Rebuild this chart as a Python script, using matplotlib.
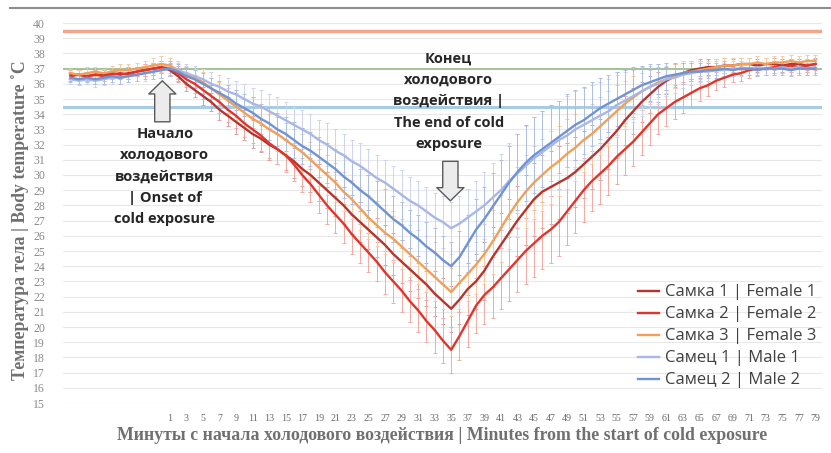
import matplotlib
matplotlib.use("Agg")
import matplotlib.pyplot as plt
from matplotlib.lines import Line2D

# ---------------- data ----------------
minutes = list(range(-11, 80))          # 91 time points (baseline before minute 1)
tick_minutes = list(range(1, 80, 2))
tick_labels = [str(m) for m in tick_minutes]
y_ticks = list(range(15, 41))

series_names = ["Самка 1 | Female 1", "Самка 2 | Female 2", "Самка 3 | Female 3",
                "Самец 1 | Male 1", "Самец 2 | Male 2"]

female1_temp = [36.6, 36.6, 36.5, 36.6, 36.6, 36.7, 36.6, 36.7, 36.8, 36.9, 37.0, 37.1,
                36.9, 36.5, 36.0, 35.6, 35.2, 34.8, 34.3, 33.9, 33.5, 33.1, 32.7, 32.4, 32.0, 31.7, 31.3,
                30.9, 30.4, 30.0, 29.5, 29.0, 28.5, 28.0, 27.4, 26.9, 26.4, 25.9, 25.4, 24.8, 24.3, 23.8,
                23.3, 22.8, 22.2, 21.7, 21.2,
                21.8, 22.5, 23.0, 23.7, 24.6, 25.4, 26.2, 27.0, 27.7, 28.4, 28.9, 29.2, 29.5, 29.8, 30.2,
                30.7, 31.2, 31.7, 32.3, 32.9, 33.6, 34.2, 34.8, 35.3, 35.8, 36.2, 36.5, 36.7, 36.9, 37.0,
                37.1, 37.1, 37.2, 37.2, 37.3, 37.3, 37.2, 37.3, 37.3, 37.2, 37.3, 37.3, 37.2, 37.3]
female2_temp = [36.5, 36.6, 36.5, 36.6, 36.5, 36.6, 36.7, 36.6, 36.8, 36.9, 37.0, 37.1,
                37.0, 36.7, 36.3, 36.0, 35.6, 35.2, 34.8, 34.3, 33.9, 33.4, 33.0, 32.6, 32.1, 31.7, 31.3,
                30.7, 30.0, 29.4, 28.7, 28.0, 27.4, 26.8, 26.1, 25.5, 24.9, 24.3, 23.6, 23.0, 22.4, 21.7,
                21.1, 20.4, 19.8, 19.1, 18.5,
                19.4, 20.4, 21.4, 22.1, 22.6, 23.2, 23.8, 24.4, 25.0, 25.5, 26.0, 26.4, 26.9, 27.6, 28.3,
                29.0, 29.6, 30.1, 30.6, 31.2, 31.7, 32.2, 32.8, 33.4, 34.0, 34.4, 34.8, 35.1, 35.4, 35.7,
                35.9, 36.2, 36.4, 36.6, 36.7, 36.9, 37.0, 37.0, 37.1, 37.1, 37.2, 37.1, 37.2, 37.3]
female3_temp = [36.7, 36.6, 36.7, 36.8, 36.7, 36.8, 36.9, 36.9, 37.0, 37.1, 37.2, 37.3,
                37.2, 36.9, 36.6, 36.4, 36.1, 35.7, 35.3, 34.9, 34.5, 34.1, 33.7, 33.4, 33.0, 32.7, 32.3,
                31.9, 31.5, 31.0, 30.5, 30.0, 29.5, 28.9, 28.4, 27.8, 27.2, 26.7, 26.2, 25.8, 25.3, 24.8,
                24.3, 23.8, 23.3, 22.8, 22.3,
                22.9, 23.5, 24.1, 24.8, 25.6, 26.5, 27.4, 28.2, 28.9, 29.5, 30.0, 30.5, 30.9, 31.4, 31.8,
                32.3, 32.7, 33.2, 33.7, 34.2, 34.7, 35.1, 35.5, 35.8, 36.1, 36.3, 36.5, 36.7, 36.8, 36.9,
                37.0, 37.1, 37.2, 37.2, 37.3, 37.3, 37.4, 37.3, 37.4, 37.4, 37.5, 37.4, 37.5, 37.5]
male1_temp = [36.3, 36.2, 36.3, 36.2, 36.3, 36.4, 36.4, 36.5, 36.6, 36.7, 36.8, 36.9,
              37.0, 36.9, 36.7, 36.5, 36.3, 36.0, 35.8, 35.5, 35.3, 35.0, 34.7, 34.5, 34.2, 33.9, 33.6,
              33.3, 33.0, 32.7, 32.3, 32.0, 31.6, 31.3, 30.9, 30.6, 30.2, 29.8, 29.5, 29.1, 28.7, 28.3,
              28.0, 27.6, 27.2, 26.9, 26.5,
              26.8, 27.2, 27.6, 28.0, 28.5, 29.0, 29.6, 30.1, 30.6, 31.1, 31.5, 31.9, 32.3, 32.6, 33.0,
              33.3, 33.6, 33.9, 34.2, 34.6, 34.9, 35.2, 35.5, 35.8, 36.0, 36.3, 36.4, 36.6, 36.7, 36.8,
              36.8, 36.9, 36.9, 37.0, 37.0, 37.0, 37.1, 37.0, 37.0, 37.1, 37.0, 37.1, 37.0, 37.1]
male2_temp = [36.4, 36.3, 36.4, 36.3, 36.4, 36.5, 36.4, 36.5, 36.6, 36.7, 36.8, 36.9,
              37.0, 36.8, 36.5, 36.3, 36.0, 35.7, 35.4, 35.1, 34.7, 34.4, 34.1, 33.7, 33.4, 33.0, 32.7,
              32.3, 31.9, 31.6, 31.2, 30.8, 30.4, 29.9, 29.5, 29.0, 28.6, 28.1, 27.6, 27.1, 26.7, 26.2,
              25.8, 25.3, 24.9, 24.4, 24.0,
              24.6, 25.5, 26.4, 27.1, 27.9, 28.7, 29.5, 30.2, 30.8, 31.3, 31.7, 32.1, 32.5, 32.9, 33.3,
              33.6, 34.0, 34.4, 34.7, 35.0, 35.3, 35.6, 35.9, 36.1, 36.3, 36.5, 36.6, 36.7, 36.8, 36.8,
              36.9, 36.9, 37.0, 36.9, 37.0, 37.0, 36.9, 37.0, 37.0, 37.0, 36.9, 37.0, 37.0, 37.0]

female1_err = [0.3, 0.3, 0.3, 0.3, 0.3, 0.3, 0.3, 0.4, 0.3, 0.4, 0.4, 0.4,
               0.4, 0.4, 0.5, 0.5, 0.6, 0.6, 0.7, 0.7, 0.8, 0.8, 0.9, 0.9, 1.0, 1.0, 1.0, 1.1, 1.1, 1.1,
               1.2, 1.2, 1.2, 1.2, 1.3, 1.3, 1.3, 1.3, 1.3, 1.4, 1.4, 1.4, 1.4, 1.4, 1.5, 1.5, 1.5,
               1.6, 1.7, 1.8, 1.9, 2.0, 2.1, 2.2, 2.3, 2.3, 2.4, 2.4, 2.4, 2.4, 2.3, 2.3, 2.2, 2.1, 2.0,
               1.9, 1.8, 1.6, 1.5, 1.3, 1.2, 1.0, 0.9, 0.8, 0.7, 0.6, 0.6, 0.5, 0.5, 0.5, 0.4, 0.4, 0.4,
               0.4, 0.4, 0.4, 0.4, 0.3, 0.3, 0.3, 0.3]
female2_err = [0.3, 0.3, 0.3, 0.3, 0.3, 0.3, 0.3, 0.3, 0.3, 0.4, 0.4, 0.4,
               0.4, 0.5, 0.5, 0.6, 0.6, 0.7, 0.7, 0.8, 0.8, 0.9, 0.9, 1.0, 1.0, 1.0, 1.1, 1.1, 1.1, 1.2,
               1.2, 1.2, 1.2, 1.3, 1.3, 1.3, 1.3, 1.3, 1.4, 1.4, 1.4, 1.4, 1.4, 1.4, 1.5, 1.5, 1.5,
               1.6, 1.7, 1.8, 1.9, 2.0, 2.0, 2.1, 2.1, 2.2, 2.2, 2.2, 2.2, 2.2, 2.2, 2.1, 2.1, 2.0, 2.0,
               1.9, 1.8, 1.7, 1.6, 1.5, 1.4, 1.3, 1.2, 1.1, 1.0, 0.9, 0.8, 0.7, 0.6, 0.6, 0.5, 0.5, 0.5,
               0.4, 0.4, 0.4, 0.4, 0.4, 0.4, 0.4, 0.4]
female3_err = [0.3, 0.3, 0.4, 0.3, 0.3, 0.4, 0.4, 0.4, 0.4, 0.4, 0.5, 0.5,
               0.5, 0.5, 0.6, 0.6, 0.7, 0.7, 0.8, 0.8, 0.9, 0.9, 1.0, 1.0, 1.0, 1.1, 1.1, 1.1, 1.2, 1.2,
               1.2, 1.3, 1.3, 1.3, 1.3, 1.4, 1.4, 1.4, 1.4, 1.5, 1.5, 1.5, 1.5, 1.5, 1.6, 1.6, 1.6,
               1.7, 1.8, 1.9, 2.0, 2.1, 2.2, 2.3, 2.3, 2.4, 2.4, 2.4, 2.4, 2.3, 2.3, 2.2, 2.1, 2.0, 1.9,
               1.8, 1.7, 1.5, 1.4, 1.2, 1.1, 1.0, 0.9, 0.8, 0.7, 0.6, 0.6, 0.5, 0.5, 0.5, 0.5, 0.4, 0.4,
               0.4, 0.4, 0.4, 0.4, 0.4, 0.4, 0.4, 0.4]
male1_err = [0.3, 0.3, 0.3, 0.4, 0.4, 0.4, 0.4, 0.4, 0.4, 0.5, 0.5, 0.5,
             0.5, 0.6, 0.6, 0.7, 0.7, 0.8, 0.8, 0.9, 0.9, 1.0, 1.0, 1.1, 1.1, 1.2, 1.2, 1.2, 1.3, 1.3,
             1.3, 1.4, 1.4, 1.4, 1.4, 1.5, 1.5, 1.5, 1.5, 1.5, 1.6, 1.6, 1.6, 1.6, 1.6, 1.7, 1.7,
             1.8, 1.9, 2.0, 2.2, 2.3, 2.4, 2.5, 2.6, 2.6, 2.7, 2.7, 2.7, 2.6, 2.6, 2.5, 2.4, 2.3, 2.2,
             2.1, 2.0, 1.9, 1.7, 1.6, 1.4, 1.3, 1.1, 1.0, 0.9, 0.8, 0.7, 0.6, 0.6, 0.5, 0.5, 0.5, 0.4,
             0.4, 0.4, 0.4, 0.4, 0.4, 0.4, 0.4, 0.4]
male2_err = [0.3, 0.3, 0.3, 0.3, 0.4, 0.4, 0.4, 0.4, 0.4, 0.4, 0.5, 0.5,
             0.5, 0.5, 0.6, 0.6, 0.7, 0.7, 0.8, 0.8, 0.9, 0.9, 1.0, 1.0, 1.1, 1.1, 1.1, 1.2, 1.2, 1.2,
             1.3, 1.3, 1.3, 1.4, 1.4, 1.4, 1.4, 1.5, 1.5, 1.5, 1.5, 1.5, 1.6, 1.6, 1.6, 1.6, 1.6,
             1.7, 1.9, 2.0, 2.1, 2.2, 2.3, 2.4, 2.5, 2.5, 2.5, 2.5, 2.5, 2.4, 2.4, 2.3, 2.2, 2.1, 2.0,
             1.9, 1.8, 1.6, 1.5, 1.3, 1.2, 1.0, 0.9, 0.8, 0.7, 0.6, 0.6, 0.5, 0.5, 0.5, 0.4, 0.4, 0.4,
             0.4, 0.4, 0.4, 0.4, 0.4, 0.4, 0.4, 0.4]

ref_levels = [39.5, 37.0, 34.5]

# ---------------- style ----------------
line_colors = ["#b8332e", "#e2352a", "#f2a057", "#a9b7e6", "#6f93d3"]
err_colors = ["#dca0a0", "#f2a9a3", "#f6cba5", "#ccd4f0", "#aebfe6"]
ref_colors = ["#f4a58e", "#9dbd92", "#a8cce6"]
ref_widths = [2.5, 1.3, 2.2]

temps = [female1_temp, female2_temp, female3_temp, male1_temp, male2_temp]
errs = [female1_err, female2_err, female3_err, male1_err, male2_err]

W, H = 831, 453
fig = plt.figure(figsize=(W / 100, H / 100), dpi=100)
ax = fig.add_axes([63 / W, 1 - 403 / H, (822 - 63) / W, (403 - 23) / H])

ax.set_xlim(-11.9, 79.8)
ax.set_ylim(15, 40)
ax.set_yticks(y_ticks)
ax.set_yticklabels([str(v) for v in y_ticks], family="Liberation Serif",
                   fontsize=8.5, color="#8a8a8a")
ax.set_xticks(tick_minutes)
ax.set_xticklabels(tick_labels, family="Liberation Serif", fontsize=7.2, color="#6a6a6a")
ax.tick_params(axis="both", length=0)
ax.tick_params(axis="y", pad=13)
ax.tick_params(axis="x", pad=8)
for s in ax.spines.values():
    s.set_visible(False)
ax.grid(axis="y", color="#e8e8e8", lw=0.8)
ax.set_axisbelow(True)

for lvl, c, w in zip(ref_levels, ref_colors, ref_widths):
    ax.axhline(lvl, color=c, lw=w, zorder=1.5)

for t, e, ec in zip(temps, errs, err_colors):
    ax.errorbar(minutes, t, yerr=e, fmt="none", ecolor=ec, elinewidth=0.7,
                capsize=1.4, capthick=0.7, zorder=2)

handles = []
for t, c, name in zip(temps, line_colors, series_names):
    h, = ax.plot(minutes, t, color=c, lw=1.7, label=name, zorder=3)
    handles.append(h)

ax.set_ylabel("Температура тела | Body temperature ˚C", family="Liberation Serif",
              fontweight="bold", fontsize=12.8, color="#707070")
ax.yaxis.set_label_coords(-0.045, 0.48)
ax.set_xlabel("Минуты с начала холодового воздействия | Minutes from the start of cold exposure",
              family="Liberation Serif", fontweight="bold", fontsize=12.8, color="#707070",
              labelpad=3)

# annotations
txt_kw = dict(family=["Open Sans", "DejaVu Sans"], fontweight="bold", fontsize=10.5,
              color="#262626", ha="center", va="center", multialignment="center",
              linespacing=1.68, zorder=5)
ax.text(0.4, 29.9, "Начало\nхолодового\nвоздействия\n| Onset of\ncold exposure", **txt_kw)
ax.text(34.7, 34.85, "Конец\nхолодового\nвоздействия |\nThe end of cold\nexposure", **txt_kw)

arrow_kw = dict(arrowstyle="simple,head_length=0.95,head_width=1.95,tail_width=1.1",
                fc="#ececec", ec="#5a5a5a", lw=1.0, mutation_scale=10, shrinkA=0, shrinkB=0)
ax.annotate("", xy=(0.1, 36.2), xytext=(0.1, 33.5), arrowprops=arrow_kw, zorder=5)
ax.annotate("", xy=(34.9, 28.3), xytext=(34.9, 30.9), arrowprops=arrow_kw, zorder=5)

leg = fig.legend(handles=handles, loc="upper left", bbox_to_anchor=(630 / W, 1 - 276 / H),
                 frameon=False, prop={"family": ["Open Sans", "DejaVu Sans"], "size": 12},
                 handlelength=1.25, handletextpad=0.35, labelspacing=0.36, borderpad=0)
for txt in leg.get_texts():
    txt.set_color("#404040")

# thin frame line at the very top of the picture
fig.add_artist(Line2D([10 / W, 1.0], [1 - 8 / H, 1 - 8 / H], color="#8c8c8c", lw=1.5,
                      transform=fig.transFigure))

fig.savefig("out.png", dpi=100, facecolor="white")
